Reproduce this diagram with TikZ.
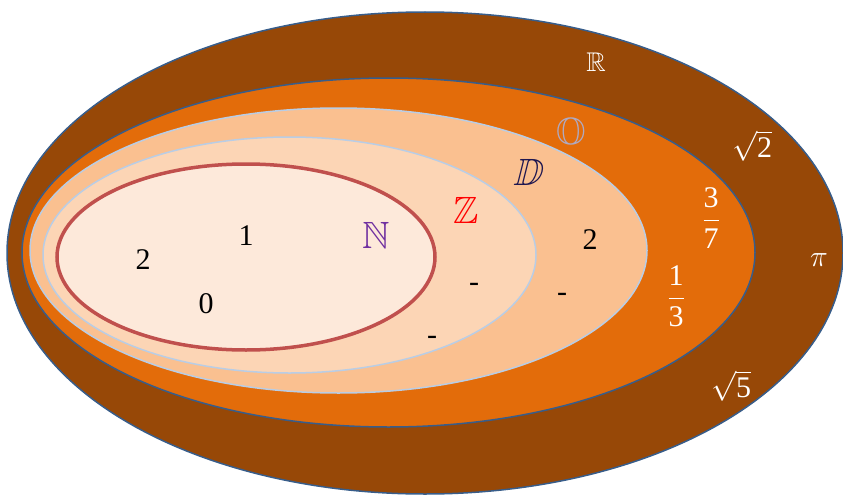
\RequirePackage{fix-cm}
\documentclass[tikz,border=0pt]{standalone}
\usepackage{amsmath,amssymb}
\usepackage{fontspec}
\setmainfont{Liberation Serif}
\usetikzlibrary{shapes.geometric}
\definecolor{realbrown}{RGB}{151,72,7}
\definecolor{ratorange}{RGB}{227,108,10}
\definecolor{decpeach}{RGB}{250,192,144}
\definecolor{intpeach}{RGB}{252,213,181}
\definecolor{natpink}{RGB}{253,233,218}
\definecolor{rimblue}{RGB}{56,93,138}
\definecolor{paleblue}{RGB}{185,205,229}
\definecolor{natred}{RGB}{192,80,77}
\definecolor{natviolet}{RGB}{112,48,160}
\definecolor{ratgrey}{RGB}{175,170,195}
\definecolor{decnavy}{RGB}{30,22,80}

\begin{document}
\begin{tikzpicture}[x=1pt, y=-1pt,
  set/.style={draw, ellipse, inner sep=0pt},
  num/.style={font=\fontsize{30}{32}\selectfont, inner sep=0pt},
  wnum/.style={num, text=white},
  sym/.style={font=\fontsize{38}{40}\selectfont, inner sep=0pt},
]
\useasboundingbox (0,0) rectangle (843,495);

% nested sets
\node[set, fill=realbrown, draw=rimblue, line width=1.5pt,
  minimum width=836, minimum height=482] (R) at (425,253) {};
\node[set, fill=ratorange, draw=rimblue, line width=1.5pt,
  minimum width=733, minimum height=349] (Q) at (388.5,252.5) {};
\node[set, fill=decpeach, draw=paleblue, line width=1.5pt,
  minimum width=617, minimum height=285] (D) at (338.5,250.5) {};
\node[set, fill=intpeach, draw=paleblue, line width=1.5pt,
  minimum width=493, minimum height=236] (Z) at (289.5,255) {};
\node[set, fill=natpink, draw=natred, line width=3.5pt,
  minimum width=378, minimum height=186] (N) at (246,257) {};

% set names
\node[sym, text=white, font=\fontsize{27}{29}\selectfont] (lR) at (596,62) {$\mathbb{R}$};
\node[sym, text=ratgrey] (lQ) at (571,135) {$\mathbb{O}$};
\node[sym, text=decnavy, xslant=0.25, transform shape] (lD) at (530,172) {$\mathbb{D}$};
\node[sym, text=red] (lZ) at (466,210) {$\mathbb{Z}$};
\node[sym, text=natviolet] (lN) at (376,235) {$\mathbb{N}$};

% elements
\node[num] (n2) at (143,260) {2};
\node[num] (n1) at (246,236) {1};
\node[num] (n0) at (206,304) {0};
\node[num] (z1) at (474,287) {-};
\node[num] (z2) at (432,340) {-};
\node[num] (d1) at (562,297) {-};
\node[num] (d2) at (590,240) {2};
\node[wnum] (q1) at (711,218) {$\dfrac{\text{3}}{\text{7}}$};
\node[wnum] (q2) at (676,296) {$\dfrac{\text{1}}{\text{3}}$};
\node[wnum] (r1) at (752,146) {$\sqrt{\text{2}}$};
\node[wnum] (r2) at (731,386) {$\sqrt{\text{5}}$};
\node[wnum] (r3) at (819,260) {$\pi$};
\end{tikzpicture}
\end{document}
